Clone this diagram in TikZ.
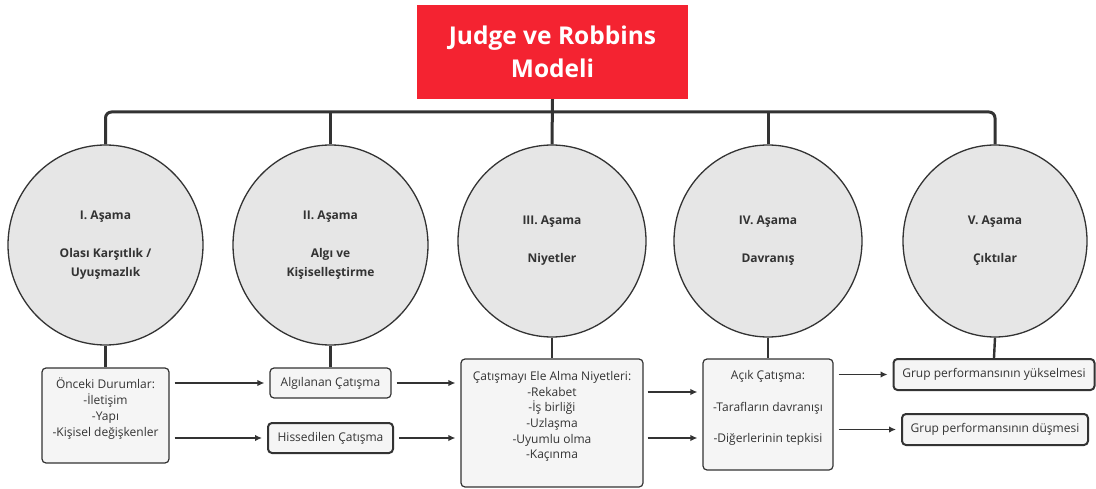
\documentclass[tikz,border=0pt]{standalone}
\usepackage{fontspec}
\setmainfont{Open Sans}
\usetikzlibrary{shapes.geometric,arrows.meta}
\definecolor{titlered}{HTML}{F42331}
\definecolor{ink}{HTML}{333333}
\definecolor{stagefill}{HTML}{E6E6E6}
\definecolor{boxfill}{HTML}{F5F5F5}
\begin{document}
\begin{tikzpicture}[x=1pt,y=-1pt,
  titlebox/.style={fill=titlered, minimum width=271pt, minimum height=94pt, inner sep=0pt,
    text=white, align=center, font=\bfseries\fontsize{24.5}{33}\selectfont},
  stage/.style={ellipse, draw=ink, line width=1.3pt, fill=stagefill, inner sep=0pt,
    align=center, text=ink, font=\bfseries\fontsize{12}{19}\selectfont},
  infobox/.style={draw=ink, line width=1.2pt, fill=boxfill, rounded corners=4pt, inner sep=0pt,
    align=center, text=ink, font=\fontsize{12}{16}\selectfont},
  heavy/.style={line width=2pt},
  trunk/.style={draw=ink, line width=3pt},
  stem/.style={draw=ink, line width=2.4pt},
  arr/.style={draw=ink, line width=1.6pt, -{Latex[length=7pt,width=6.5pt]}}
]
\useasboundingbox (0,0) rectangle (1096,489);

% title
\node[titlebox] (title) at (552.5,52) {Judge ve Robbins\\Modeli};

% the five stages
\node[stage, minimum width=195pt, minimum height=200pt] (c1) at (105.5,245)
  {I. Aşama\\[19pt]Olası Karşıtlık /\\Uyuşmazlık};
\node[stage, minimum width=195pt, minimum height=200pt] (c2) at (330.5,245)
  {II. Aşama\\[19pt]Algı ve\\Kişiselleştirme};
\node[stage, minimum width=188pt, minimum height=192pt] (c3) at (552,241)
  {III. Aşama\\[19pt]Niyetler};
\node[stage, minimum width=188pt, minimum height=192pt] (c4) at (768,241)
  {IV. Aşama\\[19pt]Davranış};
\node[stage, minimum width=184pt, minimum height=192pt] (c5) at (995,241)
  {V. Aşama\\[19pt]Çıktılar};

% tree from the title to the stages
\coordinate (bar) at (552,112);
\draw[trunk, rounded corners=6pt] (c1.north) |- (bar) -| (c5.north);
\draw[trunk] (title.south) -- (c3.north);
\draw[trunk] (c2.north) -- (c2.north |- bar);
\draw[trunk] (c4.north) -- (c4.north |- bar);

% detail boxes
\node[infobox, minimum width=127pt, minimum height=95pt] (b1) at (105.5,415.5)
  {Önceki Durumlar:\\-İletişim\\-Yapı\\-Kişisel değişkenler\\\rule{0pt}{6pt}};
\node[infobox, minimum width=121pt, minimum height=30pt] (b2) at (330.5,383)
  {Algılanan Çatışma};
\node[infobox, heavy, minimum width=125pt, minimum height=30pt] (b3) at (330.5,438)
  {Hissedilen Çatışma};
\node[infobox, minimum width=182pt, minimum height=128pt, font=\fontsize{12}{15.7}\selectfont] (b4) at (552,423)
  {Çatışmayı Ele Alma Niyetleri:\\-Rekabet\\-İş birliği\\-Uzlaşma\\-Uyumlu olma\\-Kaçınma\\\rule{0pt}{2pt}};
\node[infobox, minimum width=130pt, minimum height=111pt, font=\fontsize{12}{15.7}\selectfont] (b5) at (768,414.5)
  {Açık Çatışma:\\\strut\\-Tarafların davranışı\\\strut\\-Diğerlerinin tepkisi\\\rule{0pt}{6pt}};
\node[infobox, heavy, minimum width=201pt, minimum height=31pt] (b6) at (994,374.5)
  {Grup performansının yükselmesi};
\node[infobox, heavy, minimum width=186pt, minimum height=31pt] (b7) at (995,429.5)
  {Grup performansının düşmesi};

% stage to box stems
\draw[stem] (c1.south) -- (b1.north);
\draw[stem] (c2.south) -- (b2.north);
\draw[stem] (c3.south) -- (b4.north);
\draw[stem] (c4.south) -- (b5.north);
\draw[stem] (c5.south) -- (b6.north);

% flow arrows
\draw[arr] ([xshift=5pt]b1.east |- b2.west) -- ([xshift=-5pt]b2.west);
\draw[arr] ([xshift=5pt]b1.east |- b3.west) -- ([xshift=-5pt]b3.west);
\draw[arr] ([xshift=5pt]b2.east) -- ([xshift=-5pt]b4.west |- b2.east);
\draw[arr] ([xshift=5pt]b3.east) -- ([xshift=-5pt]b4.west |- b3.east);
\draw[arr] ([xshift=4pt]b4.east |- 0,392) -- ([xshift=-5pt]b5.west |- 0,392);
\draw[arr] ([xshift=4pt]b4.east |- 0,438) -- ([xshift=-5pt]b5.west |- 0,438);
\draw[arr] ([xshift=5pt]b5.east |- b6.west) -- ([xshift=-5pt]b6.west);
\draw[arr] ([xshift=5pt]b5.east |- b7.west) -- ([xshift=-5pt]b7.west);
\end{tikzpicture}
\end{document}
